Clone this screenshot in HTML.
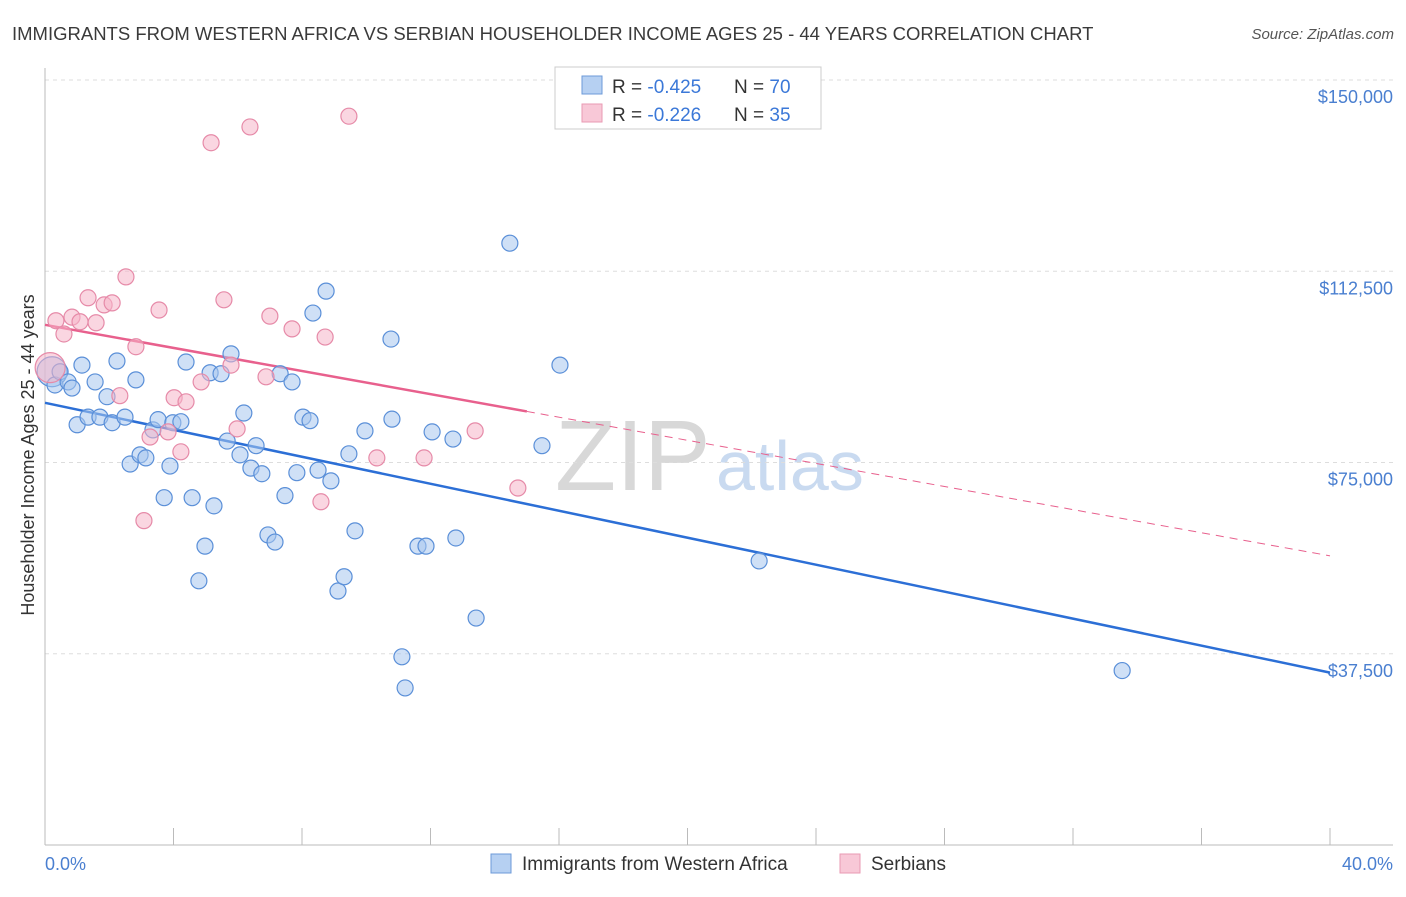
<!DOCTYPE html>
<html><head><meta charset="utf-8"><style>
body{margin:0;background:#fff;font-family:"Liberation Sans",sans-serif;}
svg text{font-family:"Liberation Sans",sans-serif;}
</style></head><body>
<svg id="chart" width="1406" height="892">
<text x="12" y="40" font-size="18.5" fill="#3a3a3a">IMMIGRANTS FROM WESTERN AFRICA VS SERBIAN HOUSEHOLDER INCOME AGES 25 - 44 YEARS CORRELATION CHART</text>
<text x="1394" y="39" font-size="15" fill="#555" font-style="italic" text-anchor="end">Source: ZipAtlas.com</text>
<text x="555" y="490" font-size="100" fill="#d8d8d8" font-family="Liberation Serif">ZIP</text>
<text x="716" y="490" font-size="70" fill="#c9daf0">atlas</text>
<g id="grid"></g><g id="axes"></g><g id="trends"></g><g id="points"></g>
<text transform="translate(34,455) rotate(-90)" font-size="18" fill="#333" text-anchor="middle">Householder Income Ages 25 - 44 years</text>
<text x="45" y="870" font-size="18" fill="#4a7fd0">0.0%</text>
<text x="1393" y="870" font-size="18" fill="#4a7fd0" text-anchor="end">40.0%</text>
<g>
<rect x="555" y="67" width="266" height="62" fill="#fff" stroke="#ccc"/>
<rect x="582" y="76" width="20" height="18" fill="#b6d0f2" stroke="#6c9ad8"/>
<rect x="582" y="104" width="20" height="18" fill="#f8c8d7" stroke="#e99ab3"/>
<text x="612" y="93" font-size="19" fill="#333">R = <tspan fill="#3b78d8">-0.425</tspan></text>
<text x="734" y="93" font-size="19" fill="#333">N = <tspan fill="#3b78d8">70</tspan></text>
<text x="612" y="121" font-size="19" fill="#333">R = <tspan fill="#3b78d8">-0.226</tspan></text>
<text x="734" y="121" font-size="19" fill="#333">N = <tspan fill="#3b78d8">35</tspan></text>
</g>
<g>
<rect x="491" y="854" width="20" height="19" fill="#b6d0f2" stroke="#6c9ad8"/>
<text x="522" y="870" font-size="19" fill="#333">Immigrants from Western Africa</text>
<rect x="840" y="854" width="20" height="19" fill="#f8c8d7" stroke="#e99ab3"/>
<text x="871" y="870" font-size="19" fill="#333">Serbians</text>
</g>
</svg>
<script>
const yTicks=[150000,112500,75000,37500];
const yTickLabels=["$150,000","$112,500","$75,000","$37,500"];
const xTicks=[0,4,8,12,16,20,24,28,32,36,40];
const blueX=[0.22,0.31,0.47,0.72,0.84,1.00,1.15,1.34,1.56,1.71,1.93,2.09,2.24,2.49,2.65,2.83,2.96,3.14,3.36,3.52,3.71,3.89,3.98,4.23,4.39,4.58,4.79,4.98,5.14,5.26,5.48,5.67,5.79,6.07,6.19,6.41,6.57,6.75,6.94,7.16,7.32,7.47,7.69,7.84,8.03,8.25,8.34,8.50,8.75,8.90,9.12,9.31,9.46,9.65,9.96,10.77,10.80,11.11,11.21,11.61,11.86,12.05,12.70,12.79,13.42,14.47,15.47,16.03,22.23,33.53];
const blueY=[92.8,90.2,92.8,90.8,89.6,82.4,94.1,83.9,90.8,83.9,87.9,82.8,94.9,83.9,74.7,91.2,76.5,75.9,81.4,83.4,68.1,74.3,82.8,83.0,94.7,68.1,51.8,58.6,92.6,66.5,92.4,79.2,96.3,76.5,84.7,73.9,78.3,72.8,60.8,59.4,92.4,68.5,90.8,73.0,83.9,83.2,104.3,73.5,108.6,71.4,49.8,52.6,76.7,61.6,81.2,99.2,83.5,36.9,30.8,58.6,58.6,81.0,79.6,60.2,44.5,118.0,78.3,94.1,55.7,34.2];
const pinkX=[0.16,0.34,0.59,0.84,1.09,1.34,1.59,1.84,2.09,2.33,2.52,2.83,3.08,3.27,3.55,3.83,4.02,4.23,4.39,4.86,5.17,5.57,5.79,5.98,6.38,6.88,7.00,7.69,8.59,8.72,9.46,10.33,11.80,13.39,14.72];
const pinkY=[93.6,102.8,100.2,103.5,102.6,107.3,102.4,105.9,106.3,88.1,111.4,97.7,63.6,80.0,104.9,81.0,87.7,77.1,86.9,90.8,137.7,106.9,94.1,81.6,140.8,91.8,103.7,101.2,67.3,99.6,142.9,75.9,75.9,81.2,70.0];
const blueTrend=[86.7,33.8];
const pinkTrend=[102.0,56.7];
const pinkSolidEnd=15;

const NS="http://www.w3.org/2000/svg";
const X=p=>45+p*32.125;
const Y=v=>845-v/150000*765;
const Yk=k=>Y(k*1000);
function mk(t,a,parent){const e=document.createElementNS(NS,t);for(const k in a)e.setAttribute(k,a[k]);document.getElementById(parent).appendChild(e);return e;}
yTicks.forEach((v,i)=>{
 const g=mk('line',{x1:45,x2:1393,y1:Y(v),y2:Y(v),stroke:'#ddd','stroke-dasharray':'4,4'},'grid');
 
 
 const t=mk('text',{x:1393,y:Y(v)+23,'font-size':18,fill:'#4a7fd0','text-anchor':'end'},'axes');
 t.textContent=yTickLabels[i];
 
 
});
const ax=mk('line',{x1:45,x2:1393,y1:845,y2:845,stroke:'#bbb'},'axes');


const ay=mk('line',{x1:45,x2:45,y1:68,y2:845,stroke:'#bbb'},'axes');


xTicks.forEach(p=>{
 const t=mk('line',{x1:X(p),x2:X(p),y1:828,y2:845,stroke:'#bbb'},'axes');
 
 
});
const bl=mk('line',{x1:X(0),y1:Yk(blueTrend[0]),x2:X(40),y2:Yk(blueTrend[1]),stroke:'#2c6fd6','stroke-width':2.5},'trends');


const pAt=p=>pinkTrend[0]+(pinkTrend[1]-pinkTrend[0])*p/40;
const pl=mk('line',{x1:X(0),y1:Yk(pinkTrend[0]),x2:X(pinkSolidEnd),y2:Yk(pAt(pinkSolidEnd)),stroke:'#e8608d','stroke-width':2.5},'trends');


const pd=mk('line',{x1:X(pinkSolidEnd),y1:Yk(pAt(pinkSolidEnd)),x2:X(40),y2:Yk(pinkTrend[1]),stroke:'#e8608d','stroke-width':1,'stroke-dasharray':'8,6'},'trends');


function dots(xs,ys,fill,stroke,name){
 xs.forEach((x,i)=>{
  const r=i===0?15:8;
  const c=mk('circle',{cx:X(x),cy:Yk(ys[i]),r:r,fill:fill,'fill-opacity':0.55,stroke:stroke,'stroke-width':1.2},'points');
  
  
 });
}
dots(blueX,blueY,'#a7c6ee','#5a8fd8','blue-point');
dots(pinkX,pinkY,'#f5b5c9','#e68aa8','pink-point');
</script>
</body></html>
